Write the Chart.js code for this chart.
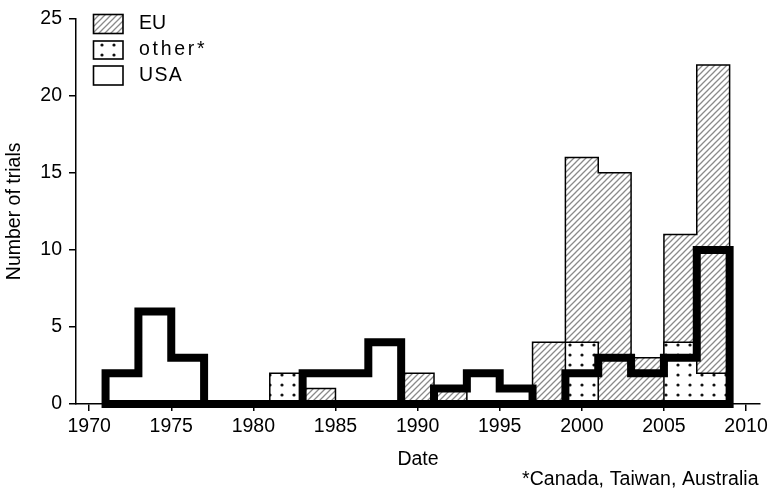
<!DOCTYPE html>
<html>
<head>
<meta charset="utf-8">
<title>Number of trials by date</title>
<script src="https://cdn.jsdelivr.net/npm/chart.js@4.4.1/dist/chart.umd.min.js"></script>
<style>
  html, body { margin: 0; padding: 0; background: #fff; }
  #chart { display: block; }
</style>
</head>
<body>
<canvas id="chart" width="772" height="490"></canvas>
<script>
// Two-year bins: each entry is the first year of a bin, the last bin ends in 2009.
const binStarts = [1971, 1973, 1975, 1977, 1979, 1981, 1983, 1985, 1987, 1989,
                   1991, 1993, 1995, 1997, 1999, 2001, 2003, 2005, 2007];
const binEnd = 2009;

// Number of trials per bin, by region.
const euTrials    = [0, 0, 0, 0, 0, 0, 1, 0, 0, 2, 1, 0, 0, 4, 16, 15, 3, 11, 22];
const otherTrials = [0, 0, 0, 0, 0, 2, 0, 0, 0, 0, 0, 0, 0, 0, 4, 0, 0, 4, 2];
const usaTrials   = [2, 6, 3, 0, 0, 0, 2, 2, 4, 0, 1, 2, 1, 0, 2, 3, 2, 3, 10];

// Axis ticks and texts.
const xTicks = [1970, 1975, 1980, 1985, 1990, 1995, 2000, 2005, 2010];
const yTicks = [0, 5, 10, 15, 20, 25];
const seriesNames = ['EU', 'other*', 'USA'];
const footnote = '*Canada, Taiwan, Australia';

const FONT = '"Liberation Sans", Arial, Helvetica, sans-serif';
const FS = 19.5;

const canvas = document.getElementById('chart');
const ctx = canvas.getContext('2d');

// Fill patterns: diagonal hatching and a dot grid.
function makeHatch() {
  const s = 6;
  const c = document.createElement('canvas');
  c.width = s; c.height = s;
  const g = c.getContext('2d');
  g.fillStyle = '#ffffff';
  g.fillRect(0, 0, s, s);
  g.strokeStyle = '#8a8a8a';
  g.lineWidth = 1.3;
  g.beginPath();
  g.moveTo(-1, s + 1); g.lineTo(s + 1, -1);
  g.moveTo(-1, 1); g.lineTo(1, -1);
  g.moveTo(s - 1, s + 1); g.lineTo(s + 1, s - 1);
  g.stroke();
  return ctx.createPattern(c, 'repeat');
}
function makeDots() {
  const w = 12, h = 10;
  const c = document.createElement('canvas');
  c.width = w; c.height = h;
  const g = c.getContext('2d');
  g.fillStyle = '#ffffff';
  g.fillRect(0, 0, w, h);
  g.fillStyle = '#111111';
  g.beginPath();
  g.arc(6, 5, 1.6, 0, Math.PI * 2);
  g.fill();
  return ctx.createPattern(c, 'repeat');
}
const hatch = makeHatch();
const dots = makeDots();

// Histogram outline as a stepped path through the bin starts.
function outline(values, closeBase) {
  const pts = [{ x: binStarts[0], y: 0 }];
  values.forEach((v, i) => pts.push({ x: binStarts[i], y: v }));
  pts.push({ x: binEnd, y: 0 });
  if (closeBase) pts.push({ x: binStarts[0], y: 0 });
  return pts;
}

// Legend drawn inside the plot area, top left.
const legendBoxes = {
  id: 'legendBoxes',
  afterDraw(chart) {
    const c = chart.ctx;
    const fills = [hatch, dots, '#ffffff'];
    const boxes = [[93.5, 14.5, 29.5, 19], [93.5, 41, 29.5, 18], [93.5, 66, 29.5, 19]];
    const spacing = ['0px', '2.7px', '1.3px'];
    const textY = [23.5, 50, 75.5];
    c.save();
    boxes.forEach((b, i) => {
      c.fillStyle = fills[i];
      c.fillRect(b[0], b[1], b[2], b[3]);
      c.strokeStyle = '#000';
      c.lineWidth = 1.6;
      c.strokeRect(b[0], b[1], b[2], b[3]);
      c.fillStyle = '#000';
      c.font = FS + 'px ' + FONT;
      c.textAlign = 'left';
      c.textBaseline = 'middle';
      if ('letterSpacing' in c) c.letterSpacing = spacing[i];
      c.fillText(seriesNames[i], 139, textY[i]);
    });
    if ('letterSpacing' in c) c.letterSpacing = '0px';
    c.restore();
  }
};

// Footnote below the axis title.
const footnotePlugin = {
  id: 'footnote',
  afterDraw(chart) {
    const c = chart.ctx;
    c.save();
    c.fillStyle = '#000';
    c.font = FS + 'px ' + FONT;
    c.textAlign = 'left';
    c.textBaseline = 'middle';
    if ('letterSpacing' in c) c.letterSpacing = '0.1px';
    c.fillText(footnote, 522, 479.5);
    if ('letterSpacing' in c) c.letterSpacing = '0px';
    c.restore();
  }
};

const axisCommon = {
  border: { display: true, color: '#000', width: 1.5 },
  grid: { display: true, drawOnChartArea: false, drawTicks: true, tickLength: 7, color: '#000', lineWidth: 1.5 },
};

new Chart(ctx, {
  type: 'line',
  data: {
    datasets: [
      {
        label: 'USA',
        data: outline(usaTrials, true),
        stepped: 'before',
        borderColor: '#000',
        borderWidth: 8,
        borderJoinStyle: 'miter',
        borderCapStyle: 'square',
        fill: false,
        clip: false
      },
      {
        label: 'other*',
        data: outline(otherTrials, false),
        stepped: 'before',
        borderColor: '#000',
        borderWidth: 1.5,
        borderJoinStyle: 'miter',
        backgroundColor: dots,
        fill: 'origin'
      },
      {
        label: 'EU',
        data: outline(euTrials, false),
        stepped: 'before',
        borderColor: '#000',
        borderWidth: 1.5,
        borderJoinStyle: 'miter',
        backgroundColor: hatch,
        fill: 'origin'
      }
    ]
  },
  options: {
    responsive: false,
    animation: false,
    events: [],
    layout: { padding: { top: 17, right: 12, bottom: 0, left: 0 } },
    elements: { point: { radius: 0 }, line: { tension: 0 } },
    plugins: {
      legend: { display: false },
      tooltip: { enabled: false }
    },
    scales: {
      x: {
        type: 'linear',
        min: 1969.2,
        max: 2010.85,
        ...axisCommon,
        afterBuildTicks(scale) { scale.ticks = xTicks.map(v => ({ value: v })); },
        afterFit(scale) { scale.height = 86; },
        ticks: {
          color: '#000',
          font: { family: FONT, size: FS },
          padding: 4,
          maxRotation: 0,
          autoSkip: false,
          callback: v => String(v)
        },
        title: {
          display: true,
          text: 'Date',
          color: '#000',
          font: { family: FONT, size: FS },
          padding: { top: 0, bottom: 19 }
        }
      },
      y: {
        type: 'linear',
        min: 0,
        max: 25,
        ...axisCommon,
        afterBuildTicks(scale) { scale.ticks = yTicks.map(v => ({ value: v })); },
        afterFit(scale) { scale.width = 76; },
        ticks: {
          color: '#000',
          font: { family: FONT, size: FS },
          padding: 7,
          callback: v => String(v)
        },
        title: {
          display: true,
          text: 'Number of trials',
          color: '#000',
          font: { family: FONT, size: FS },
          padding: { top: 3, bottom: 0 }
        }
      }
    }
  },
  plugins: [legendBoxes, footnotePlugin]
});
</script>
</body>
</html>
